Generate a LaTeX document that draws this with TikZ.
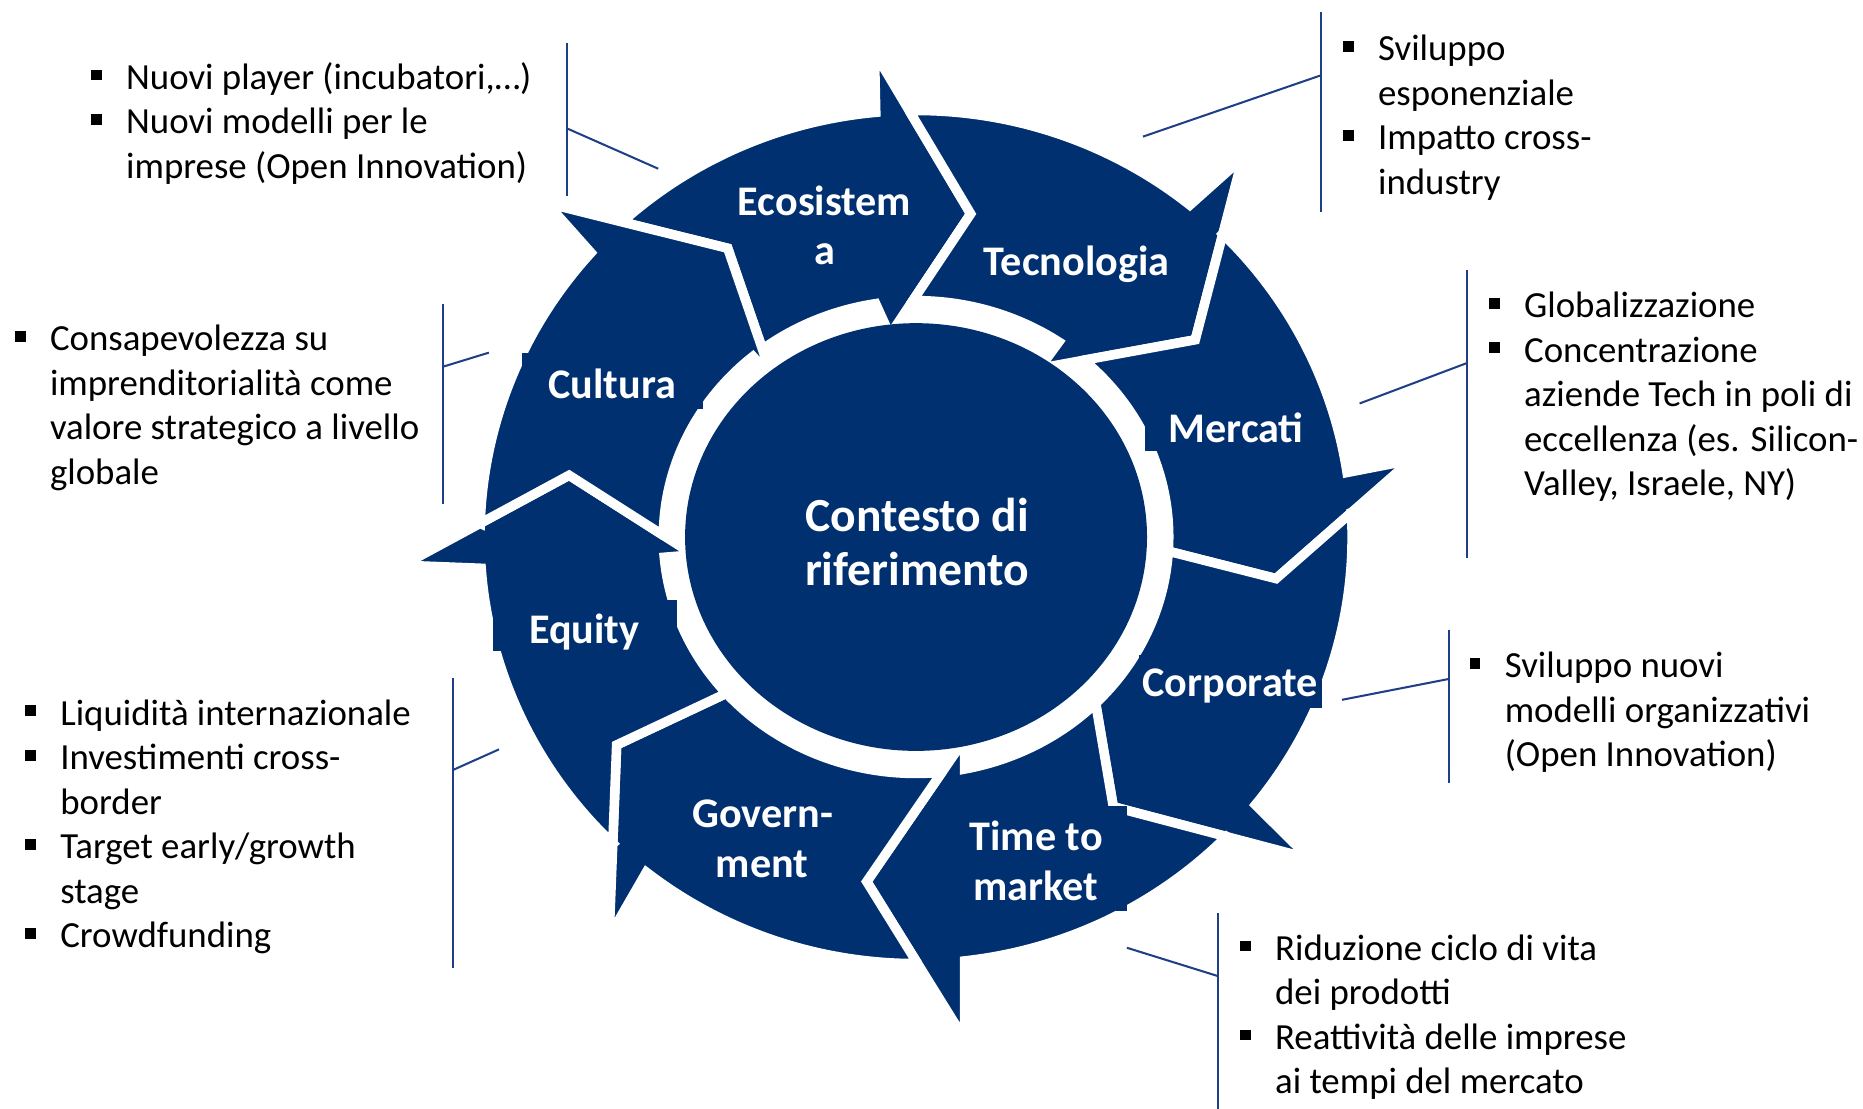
\documentclass[tikz,border=0pt]{standalone}
\usepackage{fontspec}
\setmainfont{Carlito}
\usetikzlibrary{intersections,calc}
\definecolor{navy}{RGB}{0,48,112}
\definecolor{cline}{RGB}{30,62,135}
\newcommand\bsq{\makebox[29.5pt][l]{\rule[7.5pt]{9pt}{9pt}}}
\newcommand\bind{\hspace*{29.5pt}}
\newcommand\drawarrow[5]{%
\path[arr] let \p1=(To#1), \p2=(Ti#1),
  \n1={atan2(\y1/359,\x1/367)+#5*360*(atan2(\y1/359,\x1/367)<0)},
  \n2={atan2(\y2/199,\x2/212.7)+#5*360*(atan2(\y2/199,\x2/212.7)<0)} in
  (To#1) -- (\n1:367pt and 359pt)
  arc[start angle=\n1, end angle=#3, x radius=367pt, y radius=359pt]
  -- (Bo#1) -- (P#1) -- (Bi#1) -- (#4:212.7pt and 199pt)
  arc[start angle=#4, end angle=\n2, x radius=212.7pt, y radius=199pt]
  -- (Ti#1) -- (P#2) -- cycle;}
\begin{document}
\begin{tikzpicture}[x=1pt,y=1pt,
  arr/.style={fill=navy, draw=white, line width=8pt, line join=miter, miter limit=10},
  lbl/.style={text=white, font=\fontsize{35.5}{42}\selectfont\bfseries, anchor=base, inner sep=0pt},
  ctr/.style={text=white, font=\fontsize{40}{47}\selectfont\bfseries, anchor=base, inner sep=0pt},
  body/.style={font=\fontsize{31}{37.5}\selectfont, align=left, anchor=north west, inner sep=0pt, text=black},
  cl/.style={draw=cline, line width=1.7pt}]

\useasboundingbox (-771,-481) rectangle (797,452);
\fill[white] (-771,-481) rectangle (797,452);

% arrow heads: outer barb, tip, inner barb
\coordinate (Bo1) at (-35,408);     \coordinate (P1) at (46,272);     \coordinate (Bi1) at (-22,170);
\coordinate (Bo2) at (274.8,319);   \coordinate (P2) at (235,166);    \coordinate (Bi2) at (104,142);
\coordinate (Bo3) at (416.8,64.8);  \coordinate (P3) at (303,-35);    \coordinate (Bi3) at (185,-5);
\coordinate (Bo4) at (331.3,-270.6);\coordinate (P4) at (166,-227);   \coordinate (Bi4) at (150,-133);
\coordinate (Bo5) at (41,-423);     \coordinate (P5) at (-41.5,-290); \coordinate (Bi5) at (41,-170);
\coordinate (Bo6) at (-258.3,-336.5);\coordinate (P6) at (-252,-175); \coordinate (Bi6) at (-135,-120);
\coordinate (Bo7) at (-432,-23.7);  \coordinate (P7) at (-292,52);    \coordinate (Bi7) at (-187,-15);
\coordinate (Bo8) at (-310.8,281);  \coordinate (P8) at (-158.5,243); \coordinate (Bi8) at (-121,134);

\path[name path=outE] (0,0) ellipse [x radius=367pt, y radius=359pt];
\path[name path=inE] (0,0) ellipse [x radius=212.7pt, y radius=199pt];

\foreach \k/\q in {1/8,2/1,3/2,4/3,5/4,6/5,7/6,8/7}{
  \path[name path=ho] (Bo\q) -- (P\q);
  \path[name path=hi] (P\q) -- (Bi\q);
  \path[name intersections={of=outE and ho, by={To\k}}];
  \path[name intersections={of=inE and hi, by={Ti\k}}];
}

% arrows: index, previous, outer arc end angle, inner arc start angle, wrap flag
\drawarrow{1}{8}{95.3}{99.2}{0}
\drawarrow{2}{1}{51.1}{55.6}{0}
\drawarrow{3}{2}{8.7}{-1.65}{0}
\drawarrow{4}{3}{-38.9}{-43.5}{0}
\drawarrow{5}{4}{-83.6}{-78.9}{0}
\drawarrow{6}{5}{-128.2}{-136.5}{0}
\drawarrow{7}{6}{-175.8}{-175.1}{0}
\drawarrow{8}{7}{138.2}{130.2}{1}

% central disk
\fill[navy] (0,0) ellipse [x radius=194.4pt, y radius=180pt];

% label backgrounds
\fill[navy] (-332,108) rectangle (-179,155);
\fill[navy] (193,72) rectangle (341,111);
\fill[navy] (-356,-96) rectangle (-201,-53);
\fill[navy] (188,-144) rectangle (341.5,-99);
\fill[navy] (24,-315) rectangle (177.5,-226);

% labels
\node[lbl] (lEco1) at (-77,271) {Ecosistem};
\node[lbl] (lEco2) at (-77,229) {a};
\node[lbl] (lTec) at (135,220.5) {Tecnologia};
\node[lbl] (lMer) at (269.4,79.4) {Mercati};
\node[lbl] (lCor) at (264.4,-134.4) {Corporate};
\node[lbl] (lTim1) at (101,-264) {Time to};
\node[lbl] (lTim2) at (101,-306.1) {market};
\node[lbl] (lGov1) at (-129,-244.5) {Govern-};
\node[lbl] (lGov2) at (-129.5,-286.5) {ment};
\node[lbl] (lEqu) at (-279.3,-89.5) {Equity};
\node[lbl] (lCul) at (-255.7,117) {Cultura};
\node[ctr] (lCen1) at (1,5) {Contesto di};
\node[ctr] (lCen2) at (1,-41) {riferimento};

% callout texts
\node[body] (c1) at (-694.5,403.25) {\bsq\strut Nuovi player (incubatori,…)\\ \bsq Nuovi modelli per le\\ \bind imprese (Open Innovation)};
\node[body] (c2) at (359.2,427.25) {\bsq\strut Sviluppo\\ \bind esponenziale\\ \bsq Impatto cross-\\ \bind industry};
\node[body] (c3) at (-758.6,183.25) {\bsq\strut Consapevolezza su\\ \bind imprenditorialità come\\ \bind valore strategico a livello\\ \bind globale};
\node[body] (c4) at (482.1,211.25) {\bsq\strut Globalizzazione\\ \bsq Concentrazione\\ \bind aziende Tech in poli di\\ \bind eccellenza (es. Silicon-\\ \bind Valley, Israele, NY)};
\node[body] (c5) at (-749.9,-131.75) {\bsq\strut Liquidità internazionale\\ \bsq Investimenti cross-\\ \bind border\\ \bsq Target early/growth\\ \bind stage\\ \bsq Crowdfunding};
\node[body] (c6) at (465.8,-91.75) {\bsq\strut Sviluppo nuovi\\ \bind modelli organizzativi\\ \bind (Open Innovation)};
\node[body] (c7) at (272.5,-329.75) {\bsq\strut Riduzione ciclo di vita\\ \bind dei prodotti\\ \bsq Reattività delle imprese\\ \bind ai tempi del mercato};

% callout brackets
\coordinate (k1a) at (-294,416);   \coordinate (k1b) at (-294,287);   \coordinate (k1m) at (-294,344);   \coordinate (k1e) at (-217,310);
\coordinate (k2a) at (340.5,442);  \coordinate (k2b) at (340.5,273.3); \coordinate (k2m) at (340.5,388.5); \coordinate (k2e) at (191,337);
\coordinate (k3a) at (-398,196.5); \coordinate (k3b) at (-398,28.2);  \coordinate (k3m) at (-398,143.4); \coordinate (k3e) at (-359.5,155.2);
\coordinate (k4a) at (463.3,224.6); \coordinate (k4b) at (463.3,-18); \coordinate (k4m) at (463.3,146.3); \coordinate (k4e) at (373.3,112.4);
\coordinate (k5a) at (-389.6,-119); \coordinate (k5b) at (-389.6,-363); \coordinate (k5m) at (-389.6,-196); \coordinate (k5e) at (-351,-178.7);
\coordinate (k6a) at (448.2,-78);  \coordinate (k6b) at (448.2,-207.4); \coordinate (k6m) at (448.2,-119.5); \coordinate (k6e) at (358.5,-137);
\coordinate (k7a) at (254,-316.8); \coordinate (k7b) at (254,-481);   \coordinate (k7m) at (254,-369.5); \coordinate (k7e) at (177.5,-345.7);
\foreach \i in {1,...,7}{
  \draw[cl] (k\i a) -- (k\i b);
  \draw[cl] (k\i e) -- (k\i m);
}
\end{tikzpicture}
\end{document}
